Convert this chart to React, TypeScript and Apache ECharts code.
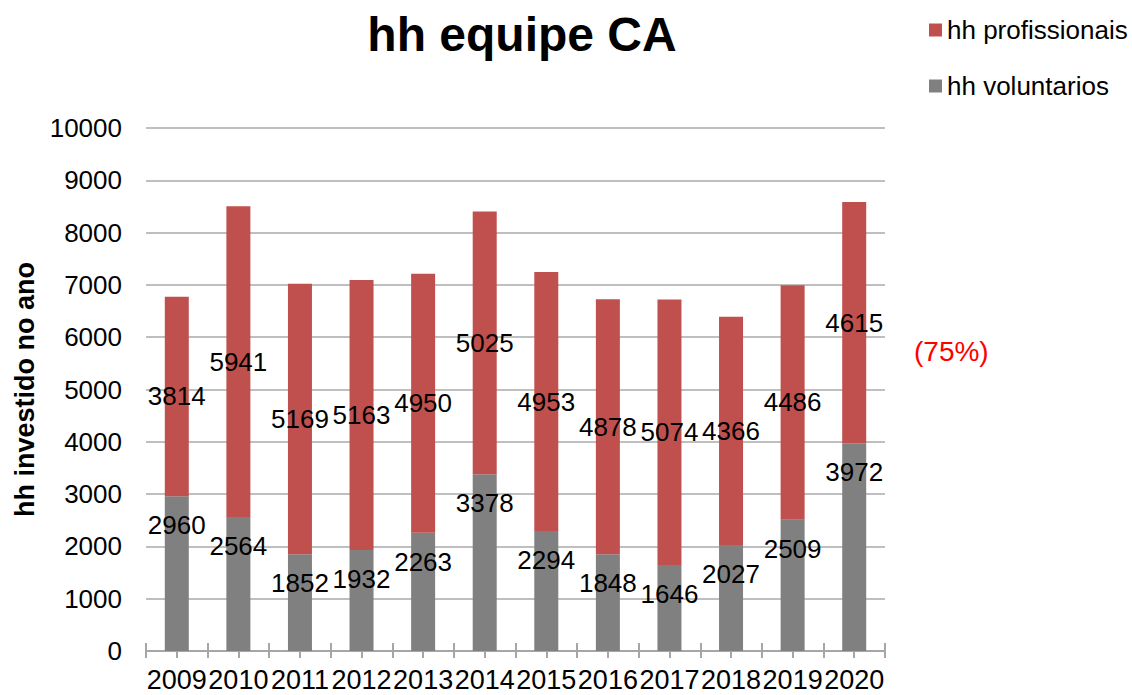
import React, { useEffect, useRef } from "react";
import * as echarts from "echarts";

const years = ["2009", "2010", "2011", "2012", "2013", "2014", "2015", "2016", "2017", "2018", "2019", "2020"];
const voluntarios = [2960, 2564, 1852, 1932, 2263, 3378, 2294, 1848, 1646, 2027, 2509, 3972];
const profissionais = [3814, 5941, 5169, 5163, 4950, 5025, 4953, 4878, 5074, 4366, 4486, 4615];
const yTicks = { min: 0, max: 10000, interval: 1000 };
const titleText = "hh equipe CA";
const yName = "hh investido no ano";
const noteText = "(75%)";

const FONT = "'Liberation Sans', Arial, sans-serif";
const RED = "#c0504d";
const GRAY = "#808080";
const AXIS = "#a6a6a6";

export default function App() {
  const ref = useRef<HTMLDivElement>(null);
  useEffect(() => {
    document.body.style.margin = "0";
    const chart = echarts.init(ref.current!, null, { renderer: "svg" });
    const baseX = {
      type: "category" as const,
      data: years,
      position: "bottom" as const,
      axisLine: { show: true, lineStyle: { color: AXIS, width: 2 } },
      splitLine: { show: false },
    };
    chart.setOption({
      animation: false,
      textStyle: { fontFamily: FONT },
      title: {
        text: titleText,
        left: 517,
        textAlign: "center",
        top: 5,
        textStyle: { fontFamily: FONT, fontSize: 48, fontWeight: "bold", color: "#000" },
      },
      legend: {
        orient: "vertical",
        left: 924,
        top: 12,
        itemWidth: 13,
        itemHeight: 13,
        itemGap: 30,
        icon: "rect",
        data: ["hh profissionais", "hh voluntarios"],
        textStyle: { fontFamily: FONT, fontSize: 26, color: "#000" },
      },
      grid: { left: 146, right: 247, top: 128, bottom: 44, containLabel: false },
      xAxis: [
        {
          ...baseX,
          axisTick: { show: true, length: 7, lineStyle: { color: AXIS, width: 2 } },
          axisLabel: { fontFamily: FONT, fontSize: 27, color: "#000", margin: 15, interval: 0 },
        },
        {
          ...baseX,
          axisTick: { show: true, inside: true, length: 8, lineStyle: { color: AXIS, width: 2 } },
          axisLabel: { show: false },
        },
        {
          ...baseX,
          axisTick: { show: true, alignWithLabel: true, length: 7, lineStyle: { color: AXIS, width: 2 } },
          axisLabel: { show: false },
        },
      ],
      yAxis: {
        type: "value",
        min: yTicks.min,
        max: yTicks.max,
        interval: yTicks.interval,
        name: yName,
        nameLocation: "middle",
        nameGap: 95,
        nameTextStyle: { fontFamily: FONT, fontSize: 27, fontWeight: "bold", color: "#000" },
        axisLine: { show: false },
        axisTick: { show: false },
        axisLabel: {
          fontFamily: FONT,
          fontSize: 26,
          color: "#000",
          margin: 24,
          formatter: (v: number) => String(v),
        },
        splitLine: { show: true, lineStyle: { color: "#bfbfbf", width: 2 } },
      },
      series: [
        {
          name: "hh voluntarios",
          type: "bar",
          stack: "total",
          data: voluntarios,
          barWidth: 24,
          itemStyle: { color: GRAY },
          label: {
            show: true,
            position: "insideTop",
            distance: 16,
            fontFamily: FONT,
            fontSize: 26,
            color: "#000",
          },
          z: 2,
        },
        {
          name: "hh profissionais",
          type: "bar",
          stack: "total",
          data: profissionais,
          barWidth: 24,
          itemStyle: { color: RED },
          label: {
            show: true,
            position: "inside",
            fontFamily: FONT,
            fontSize: 26,
            color: "#000",
          },
          z: 2,
        },
      ],
      graphic: [
        {
          type: "text",
          left: 914,
          top: 337,
          style: { text: noteText, fontFamily: FONT, fontSize: 28, fill: "#ff0000" },
        },
      ],
    });
    return () => chart.dispose();
  }, []);
  return <div ref={ref} style={{ width: 1132, height: 695 }} />;
}
